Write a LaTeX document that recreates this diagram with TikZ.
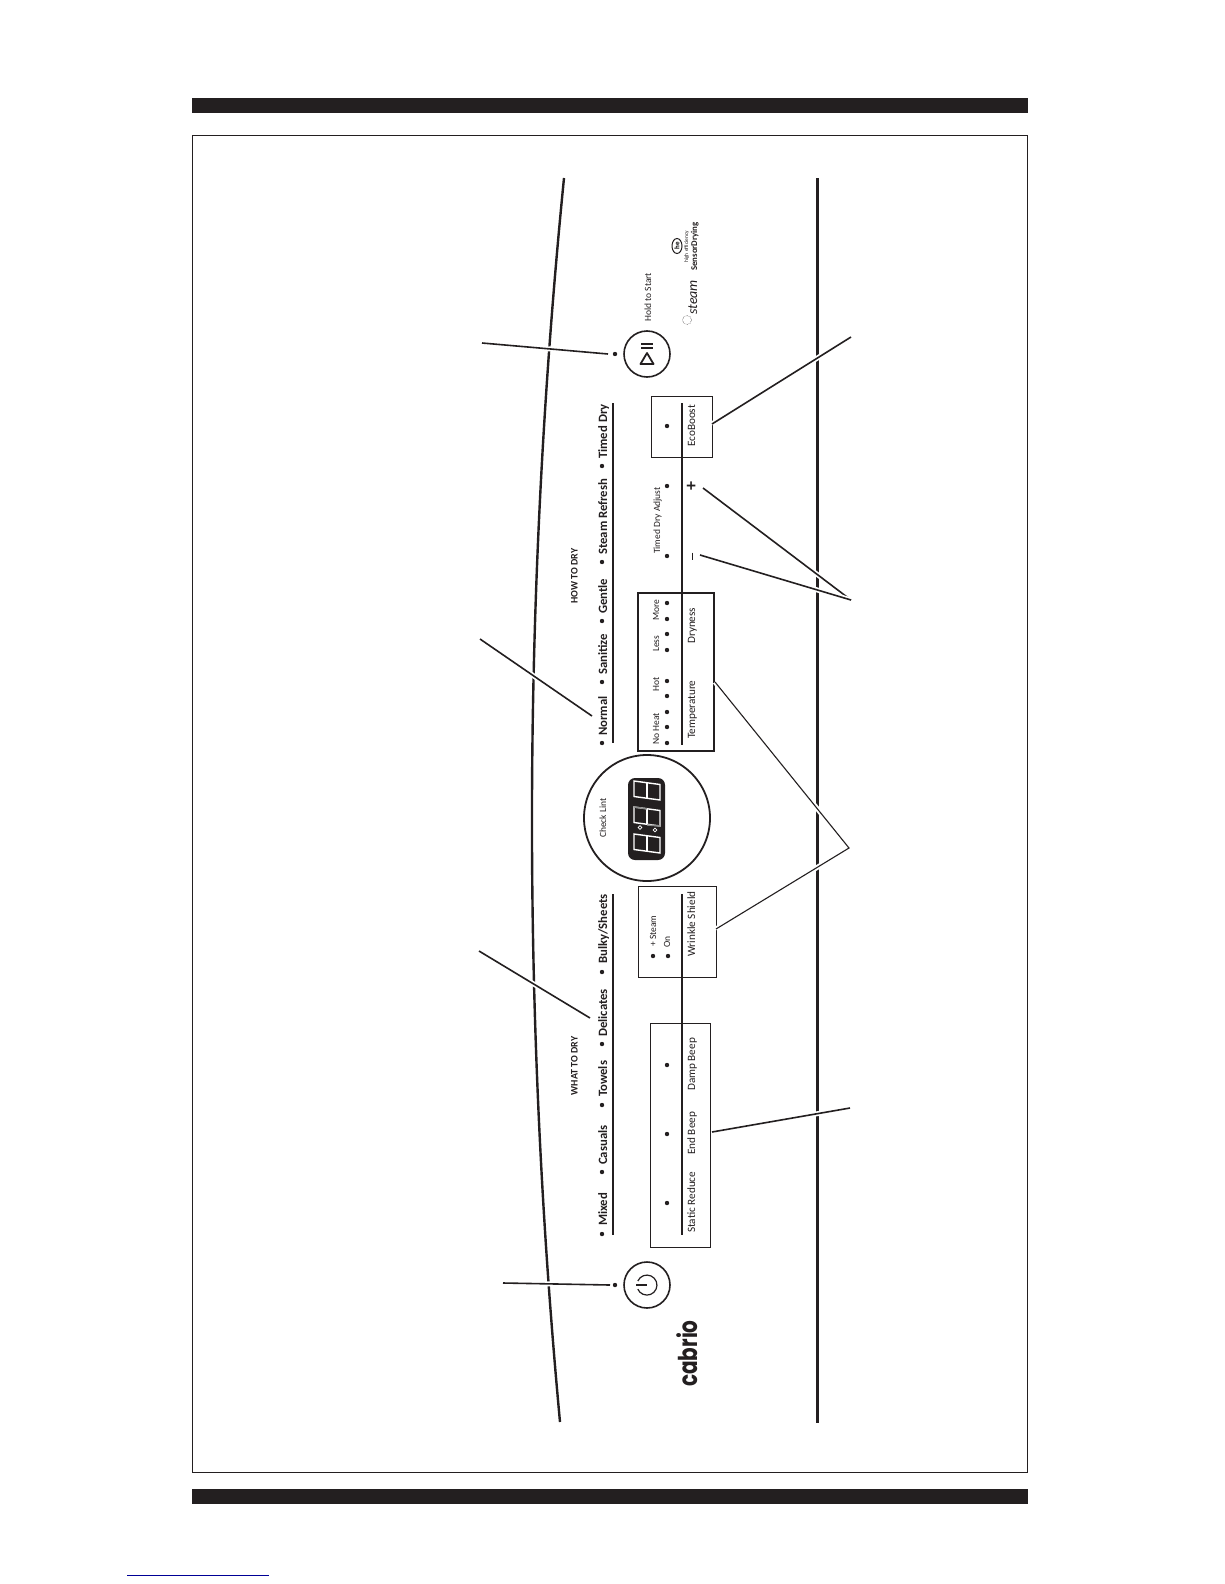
\documentclass[tikz,border=0pt]{standalone}
\usepackage{fontspec}
\setmainfont{Carlito}
\newfontfamily\logofont{Poppins}
\usepackage{tikz}
\usetikzlibrary{positioning, calc, shapes.geometric}
\definecolor{ink}{RGB}{35,31,32}
\definecolor{linkblue}{RGB}{0,0,150}
\tikzset{
  progtext/.style={rotate=90, anchor=base west, inner sep=0pt, ink, font=\fontsize{12.7}{14}\selectfont\bfseries},
  paneltext/.style={rotate=90, anchor=base west, inner sep=0pt, ink, font=\fontsize{11.2}{13}\selectfont},
  tinytext/.style={rotate=90, anchor=base west, inner sep=0pt, ink, font=\fontsize{9.5}{10}\selectfont},
  headtext/.style={rotate=90, anchor=base, inner sep=0pt, ink, font=\fontsize{10}{10}\selectfont\bfseries},
  rulebar/.style={ink, line width=2.8pt},
  panelbox/.style={draw=ink, line width=1pt},
  leader/.style={preaction={draw=white, line width=5pt}, draw=ink, line width=1.6pt},
  led/.style={fill=ink, circle, inner sep=0pt, minimum size=4.4pt},
  seg/.style={draw=white, line width=1.4pt}
}
\begin{document}
\begin{tikzpicture}[x=1pt, y=-1pt]
  \useasboundingbox (0,0) rectangle (1224,1584);
  % page bars and frame
  \fill[ink] (192,98) rectangle (1028,113);
  \fill[ink] (192,1489) rectangle (1028,1504);
  \draw[ink, line width=1.4pt] (192.7,135.5) rectangle (1027.5,1472.5);
  \draw[linkblue, line width=1pt] (127,1575) -- (269,1575);

  % console edges
  \draw[ink, line width=2.4pt] (564,178) .. controls (522.7,593) and (521.3,1007) .. (560,1422);
  \draw[ink, line width=3pt] (817,178) -- (817,1423);

  % program rows
  \draw[rulebar] (613,894) -- (613,1235);
  \draw[rulebar] (613,403) -- (613,743);
  \draw[rulebar] (682,894) -- (682,1235);
  \draw[rulebar] (682,403) -- (682,745);
  \foreach \n/\t/\y/\b in {mixed/Mixed/1226/1234, casuals/Casuals/1165/1172, towels/Towels/1097/1105, delicates/Delicates/1037/1044, bulky/Bulky\slash Sheets/964/972, normal/Normal/736/743, sanitize/Sanitize/675/682, gentle/Gentle/614/621, refresh/Steam Refresh/555/562, timed/Timed Dry/459/466} {
    \node[progtext] (\n) at (607,\y) {\t};
    \node[led] (\n dot) at (602,\b) {};
  }
  \node[headtext] (whatdry) at (577.5,1066) {WHAT TO DRY};
  \node[headtext] (howdry) at (577.5,576) {HOW TO DRY};

  % boxes
  \node[panelbox, minimum width=61pt, minimum height=61pt, inner sep=0pt] (ecobox) at (681.5,426.5) {};
  \node[panelbox, line width=1.5pt, minimum width=76pt, minimum height=158pt, inner sep=0pt] (tempbox) at (676,672) {};
  \node[panelbox, minimum width=78pt, minimum height=91pt, inner sep=0pt] (wrinklebox) at (677,931.5) {};
  \node[panelbox, minimum width=60pt, minimum height=224pt, inner sep=0pt] (beepbox) at (680,1135) {};

  % panel labels
  \foreach \n/\t/\y in {eco/EcoBoost/447, temp/Temperature/739, dry/Dryness/644, wrinkle/Wrinkle Shield/957, damp/Damp Beep/1091, endb/End Beep/1155, staticr/Static Reduce/1233} {
    \node[paneltext] (\n) at (695,\y) {\t};
  }
  \foreach \n/\t/\x/\y in {noheat/No Heat/659/745, hot/Hot/659/692, less/Less/659/652, more/More/659/621, adjust/Timed Dry Adjust/660/554, steamon/+ Steam/656/947, onlab/On/670/948, holdstart/Hold to Start/651/322, checklint/Check Lint/606/838} {
    \node[tinytext] (\n) at (\x,\y) {\t};
  }
  \foreach \x/\y [count=\i] in {667/743, 667/727, 667/712, 667/696, 667/681, 667/650, 667/634, 667/619, 667/603, 667/556, 667/486, 667/426, 653/956, 668/956, 667/1065, 667/1134, 667/1203} {
    \node[led] (dot\i) at (\x,\y) {};
  }
  \node[font=\fontsize{18}{18}\selectfont\bfseries, inner sep=0pt, rotate=90, ink] (plus) at (692,486) {+};
  \draw[ink, line width=1pt] (692,552.5) -- (692,560);

  % display
  \node[circle, draw=ink, line width=1.8pt, minimum size=126pt, inner sep=0pt] (dial) at (647,818) {};
  \fill[ink, rounded corners=7pt] (628,778) rectangle (665,860);
  \foreach \y in {781,807,834} {
    \draw[seg] (634,\y) -- (660,\y+3.5) -- (660,\y+19) -- (634,\y+15.5) -- cycle;
    \draw[seg] (647,\y+1.8) -- (647,\y+17.2);
  }
  \draw[black!45, line width=1.4pt] (634,807) -- (647,808.8) (647,825) -- (660,826);
  \draw[white, line width=0.7pt] (640,827.5) circle (1.8pt) (655,830) circle (1.8pt);

  % round buttons
  \node[circle, draw=ink, line width=1.6pt, minimum size=46pt, inner sep=0pt] (startbtn) at (647,354) {};
  \draw[ink, line width=1.8pt, line join=round] (647,353) -- (640.5,364) -- (653.5,364) -- cycle;
  \draw[ink, line width=1.6pt] (641,344) -- (653,344) (641,348) -- (653,348);
  \node[led] (startdot) at (615,354) {};
  \node[circle, draw=ink, line width=1.6pt, minimum size=46pt, inner sep=0pt] (powerbtn) at (647,1285) {};
  \draw[ink, line width=1.2pt] (637.8,1281) arc (-156:156:10);
  \draw[ink, line width=1.2pt] (636,1285) -- (647,1285);
  \node[led] (powerdot) at (615,1285) {};

  % logos
  \node[rotate=90, anchor=base west, inner sep=0pt, ink, font=\logofont\bfseries\fontsize{26}{26}\selectfont] (cabrio) at (697,1387) {\scalebox{0.77}[1]{cabrio}};
  \node[rotate=90, anchor=base west, inner sep=0pt, ink, font=\fontsize{14}{14}\selectfont\itshape] (steamlogo) at (697,315) {steam};
  \draw[ink, line width=0.5pt, densely dotted] (687,320) circle (4.5pt);
  \node[rotate=90, anchor=base west, inner sep=0pt, ink, font=\fontsize{8.8}{9}\selectfont\bfseries] (sensor) at (697,271) {SensorDrying};
  \node[rotate=90, anchor=base west, inner sep=0pt, ink, font=\fontsize{5.5}{6}\selectfont] (higheff) at (688,263) {high efficiency};
  \node[ellipse, draw=ink, line width=1pt, rotate=90, inner sep=0.5pt, minimum width=15pt, minimum height=10pt, font=\fontsize{7}{7}\selectfont\bfseries] (helogo) at (677,246) {he};

  % callouts
  \coordinate (startend) at (482,343);
  \coordinate (startnear) at (608,354);
  \coordinate (normalend) at (480,639);
  \coordinate (normalnear) at (592,716);
  \coordinate (delend) at (479,951);
  \coordinate (delnear) at (590,1018);
  \coordinate (powerend) at (503,1283);
  \coordinate (powernear) at (610,1285);
  \coordinate (econear) at (712,424);
  \coordinate (ecoend) at (851,337);
  \coordinate (adjustend) at (851,600);
  \coordinate (plusnear) at (703,488);
  \coordinate (minusnear) at (700,555);
  \coordinate (optend) at (849,848);
  \coordinate (tempnear) at (715,682);
  \coordinate (wrinklenear) at (716,929);
  \coordinate (beepend) at (850,1108);
  \coordinate (beepnear) at (712,1132);
  \draw[leader] (startend) -- (startnear);
  \draw[leader] (normalend) -- (normalnear);
  \draw[leader] (delend) -- (delnear);
  \draw[leader] (powerend) -- (powernear);
  \draw[leader] (econear) -- (ecoend);
  \draw[leader] (plusnear) -- (adjustend);
  \draw[leader] (minusnear) -- (adjustend);
  \draw[leader, line width=1.1pt] (tempnear) -- (optend) -- (wrinklenear);
  \draw[leader] (beepnear) -- (beepend);
\end{tikzpicture}
\end{document}
